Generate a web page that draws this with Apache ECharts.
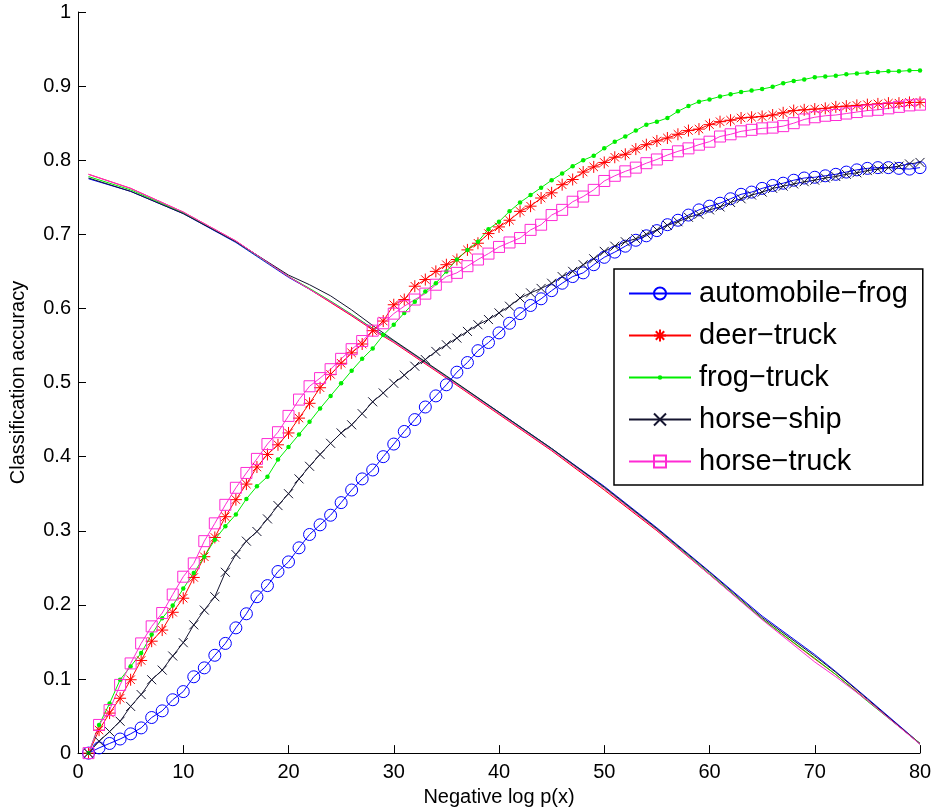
<!DOCTYPE html>
<html>
<head>
<meta charset="utf-8">
<script src="https://cdn.jsdelivr.net/npm/echarts@6/dist/echarts.min.js"></script>
<style>
html,body{margin:0;padding:0;background:#fff;}
#chart{width:935px;height:812px;}
</style>
</head>
<body>
<div id="chart"></div>
<script>
// ---- data ----
const seriesNames = ['automobile\u2212frog', 'deer\u2212truck', 'frog\u2212truck', 'horse\u2212ship', 'horse\u2212truck'];
const xTickLabels = [0, 10, 20, 30, 40, 50, 60, 70, 80];
const yTickLabels = [0, 0.1, 0.2, 0.3, 0.4, 0.5, 0.6, 0.7, 0.8, 0.9, 1];

const steps = [1,2,3,4,5,6,7,8,9,10,11,12,13,14,15,16,17,18,19,20,
  21,22,23,24,25,26,27,28,29,30,31,32,33,34,35,36,37,38,39,40,
  41,42,43,44,45,46,47,48,49,50,51,52,53,54,55,56,57,58,59,60,
  61,62,63,64,65,66,67,68,69,70,71,72,73,74,75,76,77,78,79,80];

const automobileFrog = [0,0.007,0.013,0.019,0.026,0.034,0.048,0.057,0.072,0.083,
  0.103,0.115,0.132,0.148,0.169,0.188,0.211,0.226,0.245,0.258,
  0.277,0.295,0.308,0.321,0.338,0.355,0.370,0.382,0.400,0.417,
  0.434,0.450,0.467,0.482,0.497,0.514,0.527,0.543,0.554,0.567,
  0.580,0.593,0.604,0.613,0.624,0.634,0.643,0.648,0.659,0.669,
  0.676,0.684,0.692,0.698,0.705,0.713,0.719,0.726,0.733,0.738,
  0.742,0.748,0.754,0.757,0.762,0.766,0.769,0.773,0.776,0.777,
  0.779,0.781,0.784,0.787,0.789,0.790,0.790,0.789,0.788,0.790];

const deerTruck = [0,0.031,0.054,0.074,0.099,0.125,0.151,0.166,0.190,0.209,
  0.237,0.265,0.291,0.319,0.342,0.363,0.386,0.403,0.416,0.432,
  0.452,0.472,0.493,0.511,0.526,0.540,0.552,0.570,0.583,0.605,
  0.612,0.630,0.639,0.650,0.659,0.666,0.679,0.688,0.701,0.710,
  0.719,0.731,0.738,0.749,0.756,0.767,0.774,0.784,0.791,0.797,
  0.804,0.808,0.815,0.821,0.826,0.830,0.835,0.840,0.842,0.848,
  0.852,0.854,0.857,0.858,0.859,0.861,0.864,0.867,0.868,0.869,
  0.870,0.872,0.873,0.874,0.875,0.876,0.877,0.877,0.878,0.878];

const frogTruck = [0,0.038,0.067,0.099,0.117,0.135,0.160,0.182,0.199,0.222,
  0.243,0.265,0.288,0.306,0.322,0.343,0.360,0.373,0.396,0.413,
  0.430,0.447,0.465,0.482,0.499,0.516,0.532,0.546,0.564,0.578,
  0.594,0.609,0.623,0.634,0.650,0.666,0.679,0.690,0.707,0.717,
  0.731,0.743,0.753,0.763,0.773,0.782,0.792,0.800,0.806,0.816,
  0.825,0.832,0.840,0.848,0.852,0.857,0.866,0.873,0.879,0.882,
  0.886,0.889,0.892,0.894,0.896,0.899,0.904,0.907,0.909,0.912,
  0.913,0.914,0.916,0.917,0.918,0.919,0.920,0.920,0.921,0.921];

const horseShip = [0,0.016,0.029,0.043,0.063,0.079,0.099,0.112,0.131,0.149,
  0.173,0.193,0.211,0.244,0.268,0.286,0.299,0.316,0.334,0.350,
  0.370,0.387,0.403,0.418,0.432,0.443,0.458,0.474,0.486,0.499,
  0.510,0.522,0.531,0.542,0.551,0.560,0.569,0.578,0.585,0.594,
  0.603,0.614,0.621,0.627,0.634,0.643,0.650,0.659,0.667,0.677,
  0.684,0.690,0.694,0.700,0.706,0.712,0.717,0.723,0.727,0.733,
  0.737,0.743,0.748,0.753,0.757,0.762,0.765,0.768,0.771,0.773,
  0.776,0.778,0.781,0.783,0.786,0.788,0.790,0.792,0.795,0.797];

const horseTruck = [0,0.038,0.058,0.092,0.121,0.148,0.171,0.189,0.214,0.238,
  0.256,0.286,0.310,0.335,0.358,0.378,0.397,0.417,0.433,0.455,
  0.477,0.495,0.506,0.518,0.532,0.545,0.556,0.570,0.580,0.593,
  0.603,0.612,0.620,0.632,0.643,0.648,0.657,0.666,0.674,0.683,
  0.689,0.695,0.706,0.713,0.726,0.733,0.744,0.751,0.760,0.772,
  0.779,0.785,0.790,0.796,0.801,0.807,0.812,0.816,0.821,0.825,
  0.832,0.835,0.839,0.841,0.843,0.844,0.846,0.850,0.855,0.858,
  0.860,0.861,0.863,0.865,0.867,0.868,0.870,0.872,0.874,0.875];

// descending curves (no markers)
const descSteps = [1,5,10,15,20,22,24,26,28,30,35,40,45,50,55,60,65,70,72,75,80];
const descAutomobileFrog = [0.775,0.758,0.728,0.689,0.642,0.626,0.609,0.591,0.573,0.556,0.508,0.460,0.411,0.360,0.304,0.245,0.185,0.133,0.110,0.074,0.013];
const descDeerTruck      = [0.781,0.762,0.730,0.691,0.643,0.626,0.608,0.590,0.571,0.554,0.506,0.457,0.408,0.355,0.300,0.241,0.181,0.127,0.106,0.071,0.013];
const descFrogTruck      = [0.778,0.760,0.729,0.690,0.643,0.627,0.610,0.592,0.573,0.556,0.508,0.459,0.410,0.358,0.302,0.242,0.181,0.128,0.106,0.070,0.013];
const descHorseShip      = [0.776,0.758,0.728,0.690,0.645,0.632,0.617,0.598,0.577,0.557,0.509,0.460,0.411,0.359,0.303,0.244,0.183,0.131,0.109,0.073,0.012];
const descHorseTruck     = [0.781,0.762,0.730,0.691,0.643,0.626,0.609,0.591,0.572,0.555,0.507,0.458,0.409,0.357,0.301,0.241,0.180,0.123,0.103,0.071,0.012];

// ---- styles ----
const colors = ['#0000ff', '#ff0000', '#00ee00', '#151530', '#ff2ad4'];
const ascValues = [automobileFrog, deerTruck, frogTruck, horseShip, horseTruck];
const descValues = [descAutomobileFrog, descDeerTruck, descFrogTruck, descHorseShip, descHorseTruck];

const asteriskPath = 'path://M5,0 L5,10 M0,5 L10,5 M1.5,1.5 L8.5,8.5 M1.5,8.5 L8.5,1.5';
const xPath = 'path://M0,0 L10,10 M0,10 L10,0';
// small dot centred in a 12x12 box (corner moveTo points fix the box)
const dotPath = 'path://M0,0 M12,12 M3.75,6 A2.25,2.25 0 1,0 8.25,6 A2.25,2.25 0 1,0 3.75,6 Z';
const symbolDefs = [
  {symbol: 'circle', size: 12, fill: 'rgba(0,0,0,0)', bw: 1},
  {symbol: asteriskPath, size: 12, fill: 'rgba(0,0,0,0)', bw: 1},
  {symbol: dotPath, size: 12, fill: '#00ee00', bw: 0},
  {symbol: xPath, size: 9, fill: 'rgba(0,0,0,0)', bw: 1},
  {symbol: 'rect', size: 11, fill: 'rgba(0,0,0,0)', bw: 1}
];

const series = [];
for (let i = 0; i < seriesNames.length; i++) {
  series.push({
    name: seriesNames[i] + ' (desc)',
    type: 'line',
    data: descSteps.map((x, k) => [x, descValues[i][k]]),
    showSymbol: false,
    symbol: 'none',
    lineStyle: {color: colors[i], width: 1},
    itemStyle: {color: colors[i]},
    silent: true,
    z: 2
  });
}
for (let i = 0; i < seriesNames.length; i++) {
  const s = symbolDefs[i];
  series.push({
    name: seriesNames[i],
    type: 'line',
    data: steps.map((x, k) => [x, ascValues[i][k]]),
    symbol: s.symbol,
    symbolSize: s.size,
    showSymbol: true,
    lineStyle: {color: colors[i], width: 1},
    itemStyle: {color: s.fill, borderColor: colors[i], borderWidth: s.bw},
    z: 3
  });
}

const chart = echarts.init(document.getElementById('chart'), null, {renderer: 'canvas'});
const font = 'Liberation Sans, Arial, Helvetica, sans-serif';
chart.setOption({
  animation: false,
  backgroundColor: '#fff',
  grid: {left: 77, right: 15, top: 12, bottom: 58, containLabel: false},
  xAxis: {
    type: 'value', min: 0, max: 80, interval: 10,
    name: 'Negative log p(x)', nameLocation: 'middle', nameGap: 33,
    nameTextStyle: {fontFamily: font, fontSize: 20, color: '#000'},
    axisLine: {show: true, onZero: false, lineStyle: {color: '#000', width: 1}},
    axisTick: {show: true, inside: true, length: 8, lineStyle: {color: '#000'}},
    axisLabel: {fontFamily: font, fontSize: 20, color: '#000', margin: 9,
      formatter: v => (xTickLabels.indexOf(v) >= 0 ? String(v) : '')},
    splitLine: {show: false}
  },
  yAxis: {
    type: 'value', min: 0, max: 1, interval: 0.1,
    name: 'Classification accuracy', nameLocation: 'middle', nameGap: 50,
    nameTextStyle: {fontFamily: font, fontSize: 20, color: '#000'},
    axisLine: {show: true, onZero: false, lineStyle: {color: '#000', width: 1}},
    axisTick: {show: true, inside: true, length: 8, lineStyle: {color: '#000'}},
    axisLabel: {fontFamily: font, fontSize: 20, color: '#000', margin: 7,
      formatter: v => {
        const r = Math.round(v * 10) / 10;
        const idx = yTickLabels.indexOf(r);
        return idx >= 0 ? String(yTickLabels[idx]) : '';
      }},
    splitLine: {show: false}
  },
  legend: {
    data: seriesNames,
    orient: 'vertical',
    left: 614, top: 269,
    padding: [9, 15, 8, 14],
    itemWidth: 62, itemHeight: 15, itemGap: 11,
    backgroundColor: '#fff',
    borderColor: '#000', borderWidth: 1.5, borderRadius: 0,
    textStyle: {fontFamily: font, fontSize: 29, color: '#000', lineHeight: 31, padding: [0, 0, 0, 3]},
    selectedMode: false
  },
  series: series
});
</script>
</body>
</html>
